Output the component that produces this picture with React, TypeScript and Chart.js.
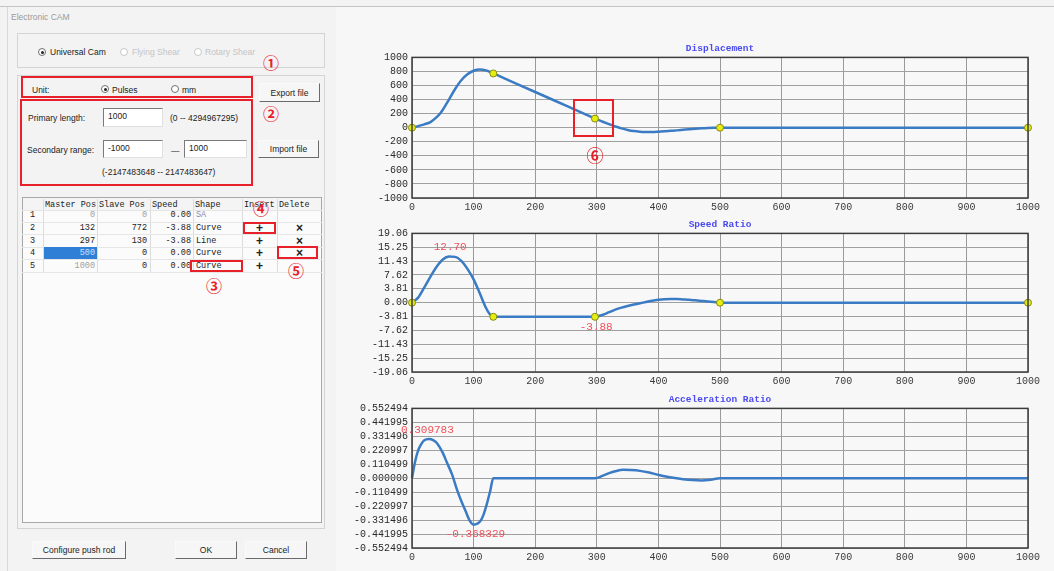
import React, { useEffect, useRef } from "react";
import { Chart, registerables } from "chart.js";

Chart.register(...registerables);

// ---------- DATA ----------
const xTickValues = [0, 100, 200, 300, 400, 500, 600, 700, 800, 900, 1000];
const xTickLabels = ["0", "100", "200", "300", "400", "500", "600", "700", "800", "900", "1000"];

// Displacement
const dispX = [0, 10, 20, 30, 40, 46, 50, 60, 70, 80, 90, 100, 110, 120, 132, 150, 200, 250, 297, 310, 320, 330, 340, 350, 360, 370, 380, 390, 400, 410, 420, 430, 440, 450, 460, 470, 480, 490, 500, 1000];
const dispY = [0, 22, 48, 80, 150, 205, 255, 400, 550, 675, 760, 810, 828, 815, 772, 702, 508, 313, 130, 85, 50, 18, -10, -32, -48, -57, -61, -62, -58, -52, -45, -38, -30, -22, -15, -9, -5, -2, 0, 0];
const dispKeyX = [0, 132, 297, 500, 1000];
const dispKeyY = [0, 772, 130, 0, 0];
const dispTickValues = [-1000, -800, -600, -400, -200, 0, 200, 400, 600, 800, 1000];
const dispTickLabels = ["-1000", "-800", "-600", "-400", "-200", "0", "200", "400", "600", "800", "1000"];

// Speed ratio
const speedX = [0, 10, 20, 30, 40, 50, 60, 70, 80, 90, 100, 110, 120, 126, 132, 297, 310, 320, 330, 340, 350, 360, 370, 380, 390, 400, 410, 420, 430, 440, 450, 460, 470, 480, 490, 500, 1000];
const speedY = [0, 1.4, 4.2, 7.2, 9.9, 11.9, 12.7, 12.6, 11.5, 9.3, 6.4, 2.6, -1.4, -3.1, -3.88, -3.88, -3.3, -2.6, -1.9, -1.35, -0.9, -0.5, -0.15, 0.2, 0.55, 0.8, 0.95, 1.0, 1.0, 0.9, 0.8, 0.65, 0.5, 0.35, 0.18, 0, 0];
const speedKeyX = [0, 132, 297, 500, 1000];
const speedKeyY = [0, -3.88, -3.88, 0, 0];
const speedTickValues = [-19.06, -15.25, -11.43, -7.62, -3.81, 0, 3.81, 7.62, 11.43, 15.25, 19.06];
const speedTickLabels = ["-19.06", "-15.25", "-11.43", "-7.62", "-3.81", "0.00", "3.81", "7.62", "11.43", "15.25", "19.06"];
const speedNoteX = [62, 299];
const speedNoteY = [12.7, -3.88];
const speedNoteText = ["12.70", "-3.88"];
const speedNoteDy = [-9, 10];

// Acceleration ratio
const accX = [0, 5, 10, 15, 20, 27, 35, 40, 50, 57, 65, 73, 80, 87, 93, 100, 106, 111, 116, 122, 127, 132, 297, 310, 320, 330, 343, 355, 370, 385, 397, 410, 424, 440, 455, 470, 485, 500, 1000];
const accY = [0, 0.13, 0.22, 0.27, 0.3, 0.31, 0.3, 0.28, 0.2, 0.12, 0.03, -0.09, -0.18, -0.26, -0.33, -0.368, -0.36, -0.34, -0.29, -0.195, -0.1, 0, 0, 0.02, 0.04, 0.055, 0.066, 0.064, 0.058, 0.045, 0.03, 0.015, 0.003, -0.008, -0.015, -0.018, -0.012, 0, 0];
const accTickValues = [-0.552494, -0.441995, -0.331496, -0.220997, -0.110499, 0, 0.110499, 0.220997, 0.331496, 0.441995, 0.552494];
const accTickLabels = ["-0.552494", "-0.441995", "-0.331496", "-0.220997", "-0.110499", "0.000000", "0.110499", "0.220997", "0.331496", "0.441995", "0.552494"];
const accNoteX = [25, 103];
const accNoteY = [0.309783, -0.368329];
const accNoteText = ["0.309783", "-0.368329"];
const accNoteDy = [-9, 9];

// Table
const tableRowNo = ["1", "2", "3", "4", "5"];
const tableMaster = ["0", "132", "297", "500", "1000"];
const tableSlave = ["0", "772", "130", "0", "0"];
const tableSpeed = ["0.00", "-3.88", "-3.88", "0.00", "0.00"];
const tableShape = ["SA", "Curve", "Line", "Curve", "Curve"];
const tableInsert = ["", "+", "+", "+", "+"];
const tableDelete = ["", "×", "×", "×", ""];

// ---------- CHART ----------
const MONO = "'Liberation Mono', 'DejaVu Sans Mono', monospace";
const LINE = "#3b7bc4";

const framePlugin = {
  id: "camFrame",
  beforeDraw(chart: any) {
    const { ctx, chartArea: a } = chart;
    ctx.save();
    ctx.fillStyle = "#f8f8f8";
    ctx.fillRect(a.left, a.top, a.right - a.left, a.bottom - a.top);
    ctx.restore();
  },
  afterDatasetsDraw(chart: any, _args: any, opts: any) {
    const notes = opts && opts.notes;
    if (!notes) return;
    const { ctx } = chart;
    const xs = chart.scales.x;
    const ys = chart.scales.y;
    ctx.save();
    ctx.font = "11px " + MONO;
    ctx.fillStyle = "#f0505a";
    ctx.textAlign = "center";
    ctx.textBaseline = "middle";
    for (let i = 0; i < notes.x.length; i++) {
      ctx.fillText(notes.text[i], xs.getPixelForValue(notes.x[i]), ys.getPixelForValue(notes.y[i]) + notes.dy[i]);
    }
    ctx.restore();
  },
  afterDraw(chart: any) {
    const { ctx, chartArea: a } = chart;
    ctx.save();
    ctx.strokeStyle = "#3c3c3c";
    ctx.lineWidth = 1.5;
    ctx.strokeRect(a.left, a.top, a.right - a.left, a.bottom - a.top);
    ctx.restore();
  },
};

type ChartProps = {
  top: number;
  height: number;
  title: string;
  xs: number[];
  ys: number[];
  keyX?: number[];
  keyY?: number[];
  tickValues: number[];
  tickLabels: string[];
  notes?: { x: number[]; y: number[]; text: string[]; dy: number[] };
};

function CamChart(p: ChartProps) {
  const ref = useRef<HTMLCanvasElement>(null);
  useEffect(() => {
    const datasets: any[] = [];
    if (p.keyX && p.keyY) {
      datasets.push({
        data: p.keyX.map((x, i) => ({ x, y: p.keyY![i] })),
        showLine: false,
        pointRadius: 3.5,
        pointBackgroundColor: "#e4ee10",
        pointBorderColor: "#8a8a10",
        pointBorderWidth: 1,
        clip: false,
      });
    }
    datasets.push({
      data: p.xs.map((x, i) => ({ x, y: p.ys[i] })),
      borderColor: LINE,
      borderWidth: 2.5,
      pointRadius: 0,
      cubicInterpolationMode: "monotone",
      fill: false,
      clip: false,
    });
    const min = p.tickValues[0];
    const max = p.tickValues[p.tickValues.length - 1];
    const chart = new Chart(ref.current!, {
      type: "line",
      data: { datasets },
      plugins: [framePlugin],
      options: {
        animation: false,
        responsive: false,
        events: [],
        layout: { padding: { left: 0, right: 26, top: 0, bottom: 0 } },
        plugins: {
          legend: { display: false },
          tooltip: { enabled: false },
          title: {
            display: true,
            text: p.title,
            fullSize: false,
            color: "#4a4af0",
            font: { family: MONO, size: 9.5, weight: "bold" },
            padding: { top: 2, bottom: 3 },
          },
          camFrame: { notes: p.notes },
        } as any,
        scales: {
          x: {
            type: "linear",
            min: 0,
            max: 1000,
            afterBuildTicks: (s: any) => {
              s.ticks = xTickValues.map((v) => ({ value: v }));
            },
            afterFit: (s: any) => {
              s.height = 16;
            },
            ticks: {
              autoSkip: false,
              maxRotation: 0,
              padding: 3,
              color: "#3a3a3a",
              font: { family: MONO, size: 10 },
              callback: (_v: any, i: number) => xTickLabels[i],
            },
            grid: { color: "#9a9a9a", lineWidth: 1, drawTicks: false },
            border: { display: false },
          },
          y: {
            type: "linear",
            min,
            max,
            afterBuildTicks: (s: any) => {
              s.ticks = p.tickValues.map((v) => ({ value: v }));
            },
            afterFit: (s: any) => {
              s.width = 72;
            },
            ticks: {
              autoSkip: false,
              padding: 4,
              color: "#2a2a2a",
              font: { family: MONO, size: 10 },
              callback: (_v: any, i: number) => p.tickLabels[i],
            },
            grid: { color: "#a0a0a0", lineWidth: 1, drawTicks: false },
            border: { display: false },
          },
        },
      } as any,
    });
    return () => chart.destroy();
  }, []);
  return (
    <canvas
      ref={ref}
      width={714}
      height={p.height}
      style={{ position: "absolute", left: 340, top: p.top, width: 714, height: p.height }}
    />
  );
}

// ---------- DIALOG PIECES ----------
const SANS = "'Liberation Sans', Arial, sans-serif";
const RED = "#e8202a";

function Txt(props: { x: number; y: number; children: any; style?: any }) {
  return (
    <div
      style={{
        position: "absolute",
        left: props.x,
        top: props.y - 6,
        lineHeight: "12px",
        fontFamily: SANS,
        fontSize: 8.5,
        color: "#222",
        whiteSpace: "nowrap",
        ...props.style,
      }}
    >
      {props.children}
    </div>
  );
}

function Box(props: { x: number; y: number; w: number; h: number; style?: any; children?: any }) {
  return (
    <div
      style={{
        position: "absolute",
        left: props.x,
        top: props.y,
        width: props.w,
        height: props.h,
        boxSizing: "border-box",
        ...props.style,
      }}
    >
      {props.children}
    </div>
  );
}

function Radio(props: { x: number; y: number; on?: boolean; disabled?: boolean }) {
  return (
    <div
      style={{
        position: "absolute",
        left: props.x - 4,
        top: props.y - 4,
        width: 8,
        height: 8,
        borderRadius: "50%",
        boxSizing: "border-box",
        border: "1px solid " + (props.disabled ? "#c8c8c8" : "#707070"),
        background: "#fff",
      }}
    >
      {props.on ? (
        <div style={{ position: "absolute", left: 1.5, top: 1.5, width: 3, height: 3, borderRadius: "50%", background: "#222" }} />
      ) : null}
    </div>
  );
}

function Button(props: { x: number; y: number; w: number; h: number; label: string }) {
  return (
    <Box
      x={props.x}
      y={props.y}
      w={props.w}
      h={props.h}
      style={{
        background: "#f6f6f6",
        borderTop: "1px solid #fafafa",
        borderLeft: "1px solid #fafafa",
        borderRight: "1px solid #6a6a6a",
        borderBottom: "1px solid #6a6a6a",
        fontFamily: SANS,
        fontSize: 8.5,
        color: "#222",
        display: "flex",
        alignItems: "center",
        justifyContent: "center",
      }}
    >
      {props.label}
    </Box>
  );
}

function Input(props: { x: number; y: number; w: number; h: number; value: string }) {
  return (
    <Box
      x={props.x}
      y={props.y}
      w={props.w}
      h={props.h}
      style={{
        background: "#fff",
        borderTop: "1px solid #7a7a7a",
        borderLeft: "1px solid #7a7a7a",
        borderRight: "1px solid #e0e0e0",
        borderBottom: "1px solid #e0e0e0",
        fontFamily: SANS,
        fontSize: 8.5,
        color: "#222",
        paddingLeft: 4,
        lineHeight: props.h - 4 + "px",
      }}
    >
      {props.value}
    </Box>
  );
}

function Circled(props: { x: number; y: number; ch: string; size?: number }) {
  const s = props.size || 16;
  return (
    <div
      style={{
        position: "absolute",
        left: props.x - 15,
        top: props.y - s / 2 - 1,
        width: 30,
        textAlign: "center",
        lineHeight: s + 2 + "px",
        fontSize: s,
        fontWeight: "bold",
        fontFamily: "'Noto Sans CJK SC', 'DejaVu Sans', sans-serif",
        color: RED,
      }}
    >
      {props.ch}
    </div>
  );
}

function RedRect(props: { x: number; y: number; w: number; h: number }) {
  return <Box x={props.x} y={props.y} w={props.w} h={props.h} style={{ border: "2px solid " + RED }} />;
}

const colEdges = [22, 43, 97, 150, 193, 242, 277, 322];
const rowCenters = [215, 228, 241, 253, 266];
const TMONO = { fontFamily: MONO, fontSize: 8.5, color: "#222" };

function Table() {
  const cells: any[] = [];
  const headers = ["", "Master Pos", "Slave Pos", "Speed", "Shape", "Insert", "Delete"];
  headers.forEach((h, i) => {
    cells.push(
      <Txt key={"h" + i} x={colEdges[i] + 2} y={205} style={TMONO}>
        {h}
      </Txt>
    );
  });
  for (let i = 1; i < colEdges.length - 1; i++) {
    cells.push(<Box key={"vl" + i} x={colEdges[i]} y={199} w={1} h={73} style={{ background: "#dcdcdc" }} />);
  }
  [210, 222, 234, 247, 259, 272].forEach((y, i) => {
    cells.push(<Box key={"hl" + i} x={22} y={y} w={300} h={1} style={{ background: "#e6e6e6" }} />);
  });
  tableRowNo.forEach((r, i) => {
    const y = rowCenters[i];
    const grey = i === 0 || i === 4;
    cells.push(
      <Box key={"n" + i} x={colEdges[0]} y={y - 6} w={21} h={12} style={{ ...TMONO, textAlign: "center", lineHeight: "12px" }}>
        {r}
      </Box>
    );
    if (i === 3) {
      cells.push(<Box key={"sel"} x={44} y={y - 6} w={53} h={12} style={{ background: "#2f7fd6" }} />);
    }
    cells.push(
      <Box
        key={"m" + i}
        x={colEdges[1]}
        y={y - 6}
        w={52}
        h={12}
        style={{ ...TMONO, textAlign: "right", lineHeight: "12px", color: i === 3 ? "#cfe0ff" : grey ? "#a0a0a0" : "#222" }}
      >
        {tableMaster[i]}
      </Box>
    );
    cells.push(
      <Box key={"s" + i} x={colEdges[2]} y={y - 6} w={50} h={12} style={{ ...TMONO, textAlign: "right", lineHeight: "12px", color: i === 0 ? "#a0a0a0" : "#222" }}>
        {tableSlave[i]}
      </Box>
    );
    cells.push(
      <Box key={"sp" + i} x={colEdges[3]} y={y - 6} w={41} h={12} style={{ ...TMONO, textAlign: "right", lineHeight: "12px" }}>
        {tableSpeed[i]}
      </Box>
    );
    cells.push(
      <Txt key={"sh" + i} x={colEdges[4] + 3} y={y} style={{ ...TMONO, color: i === 0 ? "#8a8ab0" : "#222" }}>
        {tableShape[i]}
      </Txt>
    );
    cells.push(
      <Box key={"in" + i} x={colEdges[5]} y={y - 7} w={35} h={14} style={{ fontFamily: SANS, fontSize: 12, fontWeight: "bold", textAlign: "center", lineHeight: "14px", color: "#222" }}>
        {tableInsert[i]}
      </Box>
    );
    cells.push(
      <Box key={"de" + i} x={colEdges[6]} y={y - 7} w={45} h={14} style={{ fontFamily: SANS, fontSize: 12, fontWeight: "bold", textAlign: "center", lineHeight: "14px", color: "#222" }}>
        {tableDelete[i]}
      </Box>
    );
  });
  return <>{cells}</>;
}

export default function App() {
  useEffect(() => {
    document.body.style.background = "#f3f3f3";
  }, []);
  return (
    <div style={{ position: "absolute", left: 0, top: 0, width: 1054, height: 571, overflow: "hidden", background: "#f3f3f3" }}>
      <Box x={0} y={6} w={1054} h={1} style={{ background: "#c4c4c4" }} />
      <Box x={7} y={7} w={1} h={564} style={{ background: "#d8d8d8" }} />
      <Box x={336} y={7} w={718} h={564} style={{ background: "#f7f7f7" }} />
      <Txt x={11} y={17} style={{ color: "#9a9a9a", fontSize: 8.5 }}>
        Electronic CAM
      </Txt>

      <Box x={17} y={33} w={308} h={35} style={{ border: "1px solid #d4d4d4" }} />
      <Radio x={42} y={52} on />
      <Txt x={50} y={52}>Universal Cam</Txt>
      <Radio x={124} y={52} disabled />
      <Txt x={132} y={52} style={{ color: "#c4c4c4" }}>
        Flying Shear
      </Txt>
      <Radio x={198} y={52} disabled />
      <Txt x={205} y={52} style={{ color: "#c4c4c4" }}>
        Rotary Shear
      </Txt>

      <Box x={17} y={75} w={308} h={454} style={{ border: "1px solid #d4d4d4" }} />
      <Txt x={32} y={90}>Unit:</Txt>
      <Radio x={105} y={89} on />
      <Txt x={112} y={90}>Pulses</Txt>
      <Radio x={175} y={89} />
      <Txt x={182} y={90}>mm</Txt>
      <Button x={259} y={83} w={61} h={19} label="Export file" />

      <Txt x={28} y={118}>Primary length:</Txt>
      <Input x={103} y={108} w={60} h={19} value="1000" />
      <Txt x={170} y={118}>(0 -- 4294967295)</Txt>

      <Txt x={27} y={150}>Secondary range:</Txt>
      <Input x={103} y={140} w={60} h={18} value="-1000" />
      <Txt x={171} y={151}>—</Txt>
      <Input x={184} y={140} w={63} h={18} value="1000" />
      <Button x={258} y={140} w={61} h={18} label="Import file" />
      <Txt x={102} y={172}>(-2147483648 -- 2147483647)</Txt>

      <Box x={22} y={197} w={300} h={326} style={{ background: "#fbfbfb", border: "1px solid #a8a8a8" }} />
      <Box x={23} y={198} w={298} h={12} style={{ background: "#f4f4f4" }} />
      <Table />

      <Button x={32} y={541} w={94} h={18} label="Configure push rod" />
      <Button x={175} y={541} w={62} h={18} label="OK" />
      <Button x={245} y={541} w={62} h={18} label="Cancel" />

      <RedRect x={21} y={76} w={232} h={22} />
      <RedRect x={20} y={99} w={233} h={87} />
      <RedRect x={243} y={222} w={33} h={12} />
      <RedRect x={277} y={246} w={41} h={13} />
      <RedRect x={190} y={260} w={53} h={12} />
      <Circled x={271} y={62} ch="①" />
      <Circled x={271} y={113} ch="②" />
      <Circled x={261} y={208} ch="④" />
      <Circled x={296} y={270} ch="⑤" />
      <Circled x={214} y={285} ch="③" />

      <CamChart
        top={41}
        height={173}
        title="Displacement"
        xs={dispX}
        ys={dispY}
        keyX={dispKeyX}
        keyY={dispKeyY}
        tickValues={dispTickValues}
        tickLabels={dispTickLabels}
      />
      <CamChart
        top={217}
        height={171}
        title="Speed Ratio"
        xs={speedX}
        ys={speedY}
        keyX={speedKeyX}
        keyY={speedKeyY}
        tickValues={speedTickValues}
        tickLabels={speedTickLabels}
        notes={{ x: speedNoteX, y: speedNoteY, text: speedNoteText, dy: speedNoteDy }}
      />
      <CamChart
        top={392}
        height={172}
        title="Acceleration Ratio"
        xs={accX}
        ys={accY}
        tickValues={accTickValues}
        tickLabels={accTickLabels}
        notes={{ x: accNoteX, y: accNoteY, text: accNoteText, dy: accNoteDy }}
      />

      <RedRect x={573} y={99} w={41} h={38} />
      <Circled x={595} y={154} ch="⑥" size={17} />
    </div>
  );
}
